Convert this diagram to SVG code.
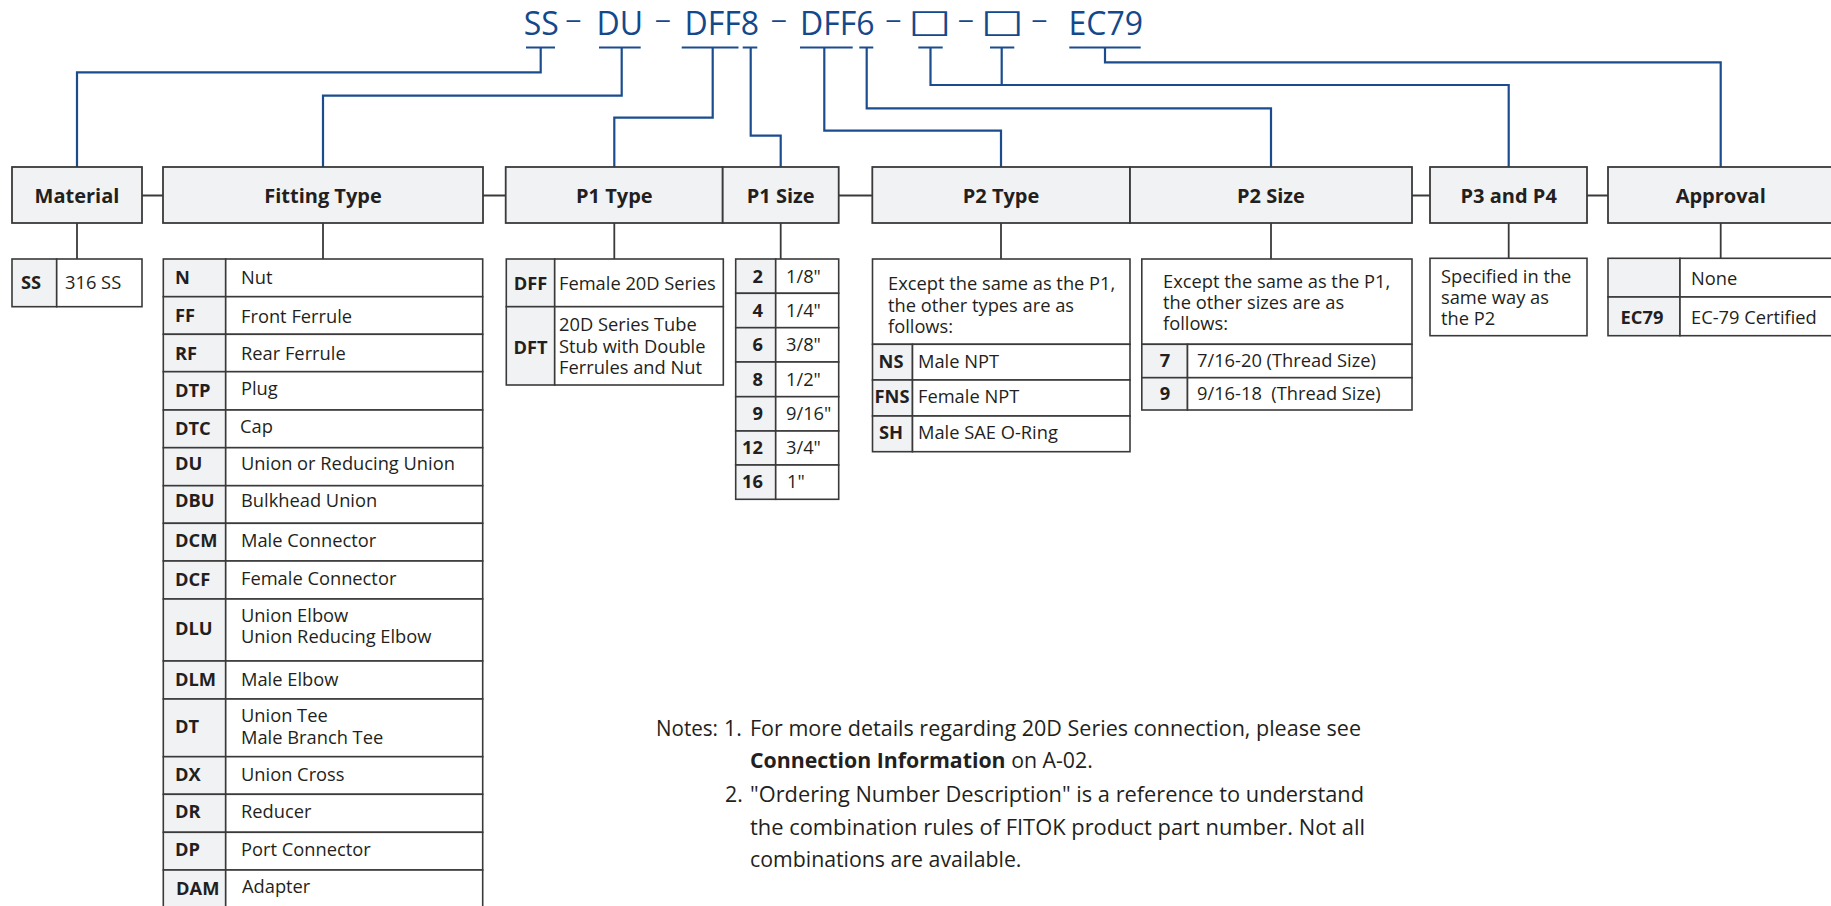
<svg xmlns="http://www.w3.org/2000/svg" width="1831" height="906" viewBox="0 0 1831 906">
<style>
.hb{fill:#f1f2f4;stroke:#3a3a3a;stroke-width:1.8}
.cc{fill:#f1f2f4;stroke:#3a3a3a;stroke-width:1.6}
.dc{fill:#ffffff;stroke:#3a3a3a;stroke-width:1.6}
.t{font-family:'Open Sans','Liberation Sans',sans-serif;font-size:18.3px;fill:#231f20}
.b{font-weight:bold}
.m{text-anchor:middle}
.h{font-family:'Open Sans','Liberation Sans',sans-serif;font-size:20px;font-weight:bold;fill:#231f20;text-anchor:middle}
.bl{stroke:#1b4d8e;stroke-width:2.2;fill:none}
.gr{stroke:#3a3a3a;stroke-width:1.8;fill:none}
.ti{font-family:'Open Sans','Liberation Sans',sans-serif;font-size:32px;fill:#13498c;text-anchor:middle}
.ds{font-family:'Open Sans','Liberation Sans',sans-serif;font-size:25px;fill:#13498c;text-anchor:middle}
.sq{font-family:'DejaVu Sans',sans-serif;font-size:32px;fill:#13498c;text-anchor:middle}
.n{font-family:'Open Sans','Liberation Sans',sans-serif;font-size:21.3px;fill:#231f20}
</style>

<g id="title">
<text class="ti" x="541.2" y="34.5">SS</text>
<text class="ds" transform="translate(573.3,27.5) scale(1.3,1)">–</text>
<text class="ti" x="619.7" y="34.5">DU</text>
<text class="ds" transform="translate(663,27.5) scale(1.3,1)">–</text>
<text class="ti" x="721.7" y="34.5">DFF8</text>
<text class="ds" transform="translate(778.8,27.5) scale(1.3,1)">–</text>
<text class="ti" x="837.2" y="34.5">DFF6</text>
<text class="ds" transform="translate(893.3,27.5) scale(1.3,1)">–</text>
<text class="sq" transform="translate(930,32) scale(1.42,1)">□</text>
<text class="ds" transform="translate(965.8,27.5) scale(1.3,1)">–</text>
<text class="sq" transform="translate(1002.5,32) scale(1.42,1)">□</text>
<text class="ds" transform="translate(1039.5,27.5) scale(1.3,1)">–</text>
<text class="ti" x="1105.8" y="34.5">EC79</text>
</g>

<g id="connectors">
<path class="bl" d="M526,47.5H555M540.7,47.5V72.3H77V167"/>
<path class="bl" d="M599,47.5H640.7M621.7,47.5V95.7H323V167"/>
<path class="bl" d="M681.7,47.5H738.5M712.7,47.5V117.7H614.3V167"/>
<path class="bl" d="M742.7,47.5H757.3M750.7,47.5V135.7H780.7V167"/>
<path class="bl" d="M800,47.5H852.7M824.3,47.5V130.7H1001V167"/>
<path class="bl" d="M859.3,47.5H873.3M866.7,47.5V108.3H1271V167"/>
<path class="bl" d="M918.3,47.5H942.7M930.5,47.5V85H1508.7V167"/>
<path class="bl" d="M990,47.5H1014.3M1001.7,47.5V85"/>
<path class="bl" d="M1069.3,47.5H1140.7M1105,47.5V62.3H1720.7V167"/>
<path class="gr" d="M142,195.5H163M483,195.5H505.7M838.7,195.5H872.3M1412,195.5H1430M1587,195.5H1608"/>
<path class="gr" d="M77,223V259M323,223V259M614.3,223V259M780.7,223V259M1001,223V259M1271,223V259M1508.7,223V258.3M1720.7,223V258.3"/>
</g>

<g id="material">
<rect class="hb" x="12" y="167" width="130" height="56"/>
<text class="h" x="77" y="202.5">Material</text>
<rect class="cc" x="12" y="259" width="44.7" height="47.7"/>
<rect class="dc" x="56.7" y="259" width="85.3" height="47.7"/>
<text class="t b" x="21" y="289.3">SS</text>
<text class="t" x="65" y="289.3">316 SS</text>
</g>

<g id="fitting-type">
<rect class="hb" x="163" y="167" width="320" height="56"/>
<text class="h" x="323" y="202.5">Fitting Type</text>
<rect class="cc" x="163.3" y="259" width="62.4" height="37.7"/><rect class="dc" x="225.7" y="259" width="257" height="37.7"/>
<rect class="cc" x="163.3" y="296.7" width="62.4" height="37.6"/><rect class="dc" x="225.7" y="296.7" width="257" height="37.6"/>
<rect class="cc" x="163.3" y="334.3" width="62.4" height="37.4"/><rect class="dc" x="225.7" y="334.3" width="257" height="37.4"/>
<rect class="cc" x="163.3" y="371.7" width="62.4" height="38.3"/><rect class="dc" x="225.7" y="371.7" width="257" height="38.3"/>
<rect class="cc" x="163.3" y="410" width="62.4" height="37.7"/><rect class="dc" x="225.7" y="410" width="257" height="37.7"/>
<rect class="cc" x="163.3" y="447.7" width="62.4" height="38"/><rect class="dc" x="225.7" y="447.7" width="257" height="38"/>
<rect class="cc" x="163.3" y="485.7" width="62.4" height="37.6"/><rect class="dc" x="225.7" y="485.7" width="257" height="37.6"/>
<rect class="cc" x="163.3" y="523.3" width="62.4" height="37.7"/><rect class="dc" x="225.7" y="523.3" width="257" height="37.7"/>
<rect class="cc" x="163.3" y="561" width="62.4" height="38"/><rect class="dc" x="225.7" y="561" width="257" height="38"/>
<rect class="cc" x="163.3" y="599" width="62.4" height="62"/><rect class="dc" x="225.7" y="599" width="257" height="62"/>
<rect class="cc" x="163.3" y="661" width="62.4" height="38"/><rect class="dc" x="225.7" y="661" width="257" height="38"/>
<rect class="cc" x="163.3" y="699" width="62.4" height="57.7"/><rect class="dc" x="225.7" y="699" width="257" height="57.7"/>
<rect class="cc" x="163.3" y="756.7" width="62.4" height="37.6"/><rect class="dc" x="225.7" y="756.7" width="257" height="37.6"/>
<rect class="cc" x="163.3" y="794.3" width="62.4" height="38"/><rect class="dc" x="225.7" y="794.3" width="257" height="38"/>
<rect class="cc" x="163.3" y="832.3" width="62.4" height="37.7"/><rect class="dc" x="225.7" y="832.3" width="257" height="37.7"/>
<rect class="cc" x="163.3" y="870" width="62.4" height="40"/><rect class="dc" x="225.7" y="870" width="257" height="40"/>
<text class="t b" x="175" y="283.5">N</text><text class="t" x="241" y="283.5">Nut</text>
<text class="t b" x="175" y="322">FF</text><text class="t" x="241" y="322.5">Front Ferrule</text>
<text class="t b" x="175" y="360">RF</text><text class="t" x="241" y="360">Rear Ferrule</text>
<text class="t b" x="175" y="397">DTP</text><text class="t" x="241" y="395">Plug</text>
<text class="t b" x="175" y="435">DTC</text><text class="t" x="240" y="433">Cap</text>
<text class="t b" x="175" y="470">DU</text><text class="t" x="241" y="470">Union or Reducing Union</text>
<text class="t b" x="175" y="507">DBU</text><text class="t" x="241" y="507">Bulkhead Union</text>
<text class="t b" x="175" y="547">DCM</text><text class="t" x="241" y="547">Male Connector</text>
<text class="t b" x="175" y="586">DCF</text><text class="t" x="241" y="585">Female Connector</text>
<text class="t b" x="175" y="635">DLU</text><text class="t" x="241" y="621.7">Union Elbow<tspan x="241" y="643.3">Union Reducing Elbow</tspan></text>
<text class="t b" x="175" y="685.7">DLM</text><text class="t" x="241" y="685.7">Male Elbow</text>
<text class="t b" x="175" y="733.3">DT</text><text class="t" x="241" y="721.7">Union Tee<tspan x="241" y="744">Male Branch Tee</tspan></text>
<text class="t b" x="175" y="781">DX</text><text class="t" x="241" y="781">Union Cross</text>
<text class="t b" x="175" y="818.3">DR</text><text class="t" x="241" y="818.3">Reducer</text>
<text class="t b" x="175" y="856">DP</text><text class="t" x="241" y="856">Port Connector</text>
<text class="t b" x="176" y="895">DAM</text><text class="t" x="242" y="892.7">Adapter</text>
</g>

<g id="p1-type">
<rect class="hb" x="505.7" y="167" width="217" height="56"/>
<text class="h" x="614.3" y="202.5">P1 Type</text>
<rect class="cc" x="506.3" y="259" width="48.4" height="47.7"/><rect class="dc" x="554.7" y="259" width="168.6" height="47.7"/>
<rect class="cc" x="506.3" y="306.7" width="48.4" height="78.3"/><rect class="dc" x="554.7" y="306.7" width="168.6" height="78.3"/>
<text class="t b m" x="530.5" y="290">DFF</text><text class="t" x="559" y="290">Female 20D Series</text>
<text class="t b m" x="530.5" y="354">DFT</text>
<text class="t" x="559" y="331">20D Series Tube<tspan x="559" y="352.7">Stub with Double</tspan><tspan x="559" y="374">Ferrules and Nut</tspan></text>
</g>

<g id="p1-size">
<rect class="hb" x="722.7" y="167" width="116" height="56"/>
<text class="h" x="780.7" y="202.5">P1 Size</text>
<rect class="cc" x="735.7" y="259" width="40" height="34.3"/><rect class="dc" x="775.7" y="259" width="63" height="34.3"/>
<rect class="cc" x="735.7" y="293.3" width="40" height="34.4"/><rect class="dc" x="775.7" y="293.3" width="63" height="34.4"/>
<rect class="cc" x="735.7" y="327.7" width="40" height="34.3"/><rect class="dc" x="775.7" y="327.7" width="63" height="34.3"/>
<rect class="cc" x="735.7" y="362" width="40" height="34.7"/><rect class="dc" x="775.7" y="362" width="63" height="34.7"/>
<rect class="cc" x="735.7" y="396.7" width="40" height="34.3"/><rect class="dc" x="775.7" y="396.7" width="63" height="34.3"/>
<rect class="cc" x="735.7" y="431" width="40" height="34"/><rect class="dc" x="775.7" y="431" width="63" height="34"/>
<rect class="cc" x="735.7" y="465" width="40" height="34.3"/><rect class="dc" x="775.7" y="465" width="63" height="34.3"/>
<text class="t b" x="763" y="282.7" text-anchor="end">2</text><text class="t" x="786" y="282.7">1/8"</text>
<text class="t b" x="763" y="316.7" text-anchor="end">4</text><text class="t" x="786" y="316.7">1/4"</text>
<text class="t b" x="763" y="351.3" text-anchor="end">6</text><text class="t" x="786" y="351.3">3/8"</text>
<text class="t b" x="763" y="386" text-anchor="end">8</text><text class="t" x="786" y="386">1/2"</text>
<text class="t b" x="763" y="420" text-anchor="end">9</text><text class="t" x="786" y="420">9/16"</text>
<text class="t b" x="763" y="454.3" text-anchor="end">12</text><text class="t" x="786" y="454.3">3/4"</text>
<text class="t b" x="763" y="488.3" text-anchor="end">16</text><text class="t" x="787" y="488.3">1"</text>
</g>

<g id="p2-type">
<rect class="hb" x="872.3" y="167" width="257.7" height="56"/>
<text class="h" x="1001" y="202.5">P2 Type</text>
<rect class="dc" x="872.5" y="259" width="257.5" height="85.3"/>
<text class="t" x="888" y="290">Except the same as the P1,<tspan x="888" y="311.7">the other types are as</tspan><tspan x="888" y="332.7">follows:</tspan></text>
<rect class="cc" x="872.5" y="344.3" width="40" height="35.7"/><rect class="dc" x="912.5" y="344.3" width="217.5" height="35.7"/>
<rect class="cc" x="872.5" y="380" width="40" height="36"/><rect class="dc" x="912.5" y="380" width="217.5" height="36"/>
<rect class="cc" x="872.5" y="416" width="40" height="35.7"/><rect class="dc" x="912.5" y="416" width="217.5" height="35.7"/>
<text class="t b m" x="891" y="368.3">NS</text><text class="t" x="918" y="368.3">Male NPT</text>
<text class="t b m" x="892" y="403.3">FNS</text><text class="t" x="918" y="403.3">Female NPT</text>
<text class="t b m" x="891" y="439.3">SH</text><text class="t" x="918" y="439.3">Male SAE O-Ring</text>
</g>

<g id="p2-size">
<rect class="hb" x="1130" y="167" width="282" height="56"/>
<text class="h" x="1271" y="202.5">P2 Size</text>
<rect class="dc" x="1141.8" y="259" width="270.2" height="85.3"/>
<text class="t" x="1163" y="288.3">Except the same as the P1,<tspan x="1163" y="309.3">the other sizes are as</tspan><tspan x="1163" y="330.3">follows:</tspan></text>
<rect class="cc" x="1141.8" y="344.3" width="45.7" height="33.4"/><rect class="dc" x="1187.5" y="344.3" width="224.5" height="33.4"/>
<rect class="cc" x="1141.8" y="377.7" width="45.7" height="32.3"/><rect class="dc" x="1187.5" y="377.7" width="224.5" height="32.3"/>
<text class="t b m" x="1165" y="367.3">7</text><text class="t" x="1197" y="367.3">7/16-20 (Thread Size)</text>
<text class="t b m" x="1165" y="400">9</text><text class="t" x="1197" y="400" xml:space="preserve">9/16-18  (Thread Size)</text>
</g>

<g id="p3-p4">
<rect class="hb" x="1430" y="167" width="157" height="56"/>
<text class="h" x="1508.7" y="202.5">P3 and P4</text>
<rect class="dc" x="1430" y="258.3" width="157" height="77.4"/>
<text class="t" x="1441" y="282.7">Specified in the<tspan x="1441" y="304">same way as</tspan><tspan x="1441" y="325">the P2</tspan></text>
</g>

<g id="approval">
<rect class="hb" x="1608" y="167" width="240" height="56"/>
<text class="h" x="1720.7" y="202.5">Approval</text>
<rect class="cc" x="1608" y="258.3" width="72" height="38.7"/><rect class="dc" x="1680" y="258.3" width="170" height="38.7"/>
<rect class="cc" x="1608" y="297" width="72" height="38.7"/><rect class="dc" x="1680" y="297" width="170" height="38.7"/>
<text class="t" x="1691" y="285">None</text>
<text class="t b m" x="1642" y="324">EC79</text><text class="t" x="1691" y="324">EC-79 Certified</text>
</g>

<g id="notes">
<text class="n" x="656" y="735.7" textLength="62" lengthAdjust="spacingAndGlyphs">Notes:</text>
<text class="n" x="724" y="735.7">1.</text>
<text class="n" x="750" y="735.7" textLength="611" lengthAdjust="spacingAndGlyphs">For more details regarding 20D Series connection, please see</text>
<text class="n" x="750" y="768.3"><tspan font-weight="bold">Connection Information</tspan> on A-02.</text>
<text class="n" x="725" y="801.7">2.</text>
<text class="n" x="750" y="801.7" textLength="614" lengthAdjust="spacingAndGlyphs">"Ordering Number Description" is a reference to understand</text>
<text class="n" x="750" y="835" textLength="615" lengthAdjust="spacingAndGlyphs">the combination rules of FITOK product part number. Not all</text>
<text class="n" x="750" y="867">combinations are available.</text>
</g>
</svg>
